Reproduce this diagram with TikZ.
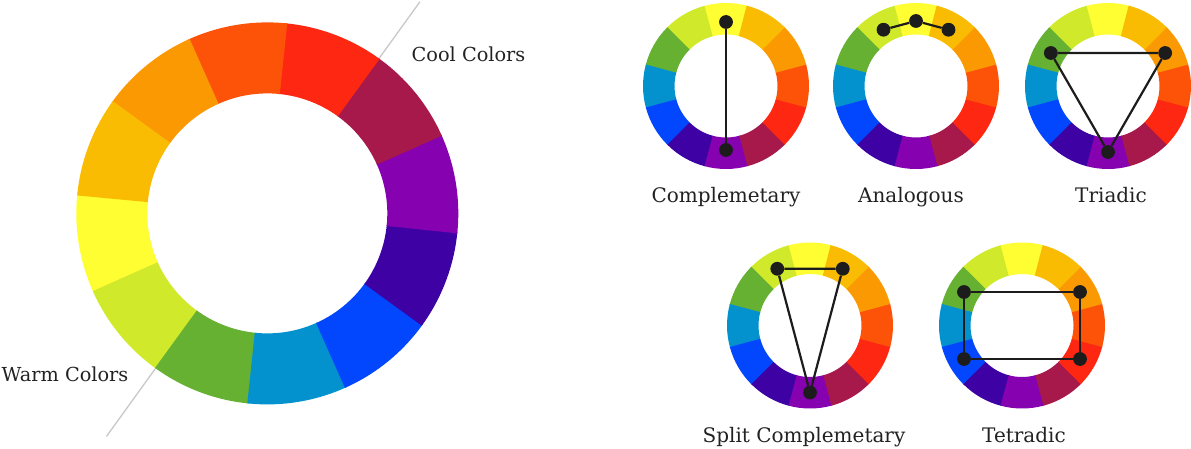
\documentclass[tikz,border=0pt]{standalone}
\usepackage{fontspec}
\setmainfont{DejaVu Serif}
\usetikzlibrary{calc}
\definecolor{cY}{HTML}{FEFE33}
\definecolor{cYG}{HTML}{D0EA2B}
\definecolor{cG}{HTML}{66B032}
\definecolor{cBG}{HTML}{0392CE}
\definecolor{cB}{HTML}{0247FE}
\definecolor{cBV}{HTML}{3D01A4}
\definecolor{cV}{HTML}{8601AF}
\definecolor{cRV}{HTML}{A7194B}
\definecolor{cR}{HTML}{FE2712}
\definecolor{cRO}{HTML}{FD5308}
\definecolor{cO}{HTML}{FB9902}
\definecolor{cYO}{HTML}{FABC02}
\definecolor{dotcol}{HTML}{1C1C1C}
\definecolor{txtcol}{HTML}{222222}
\definecolor{divcol}{HTML}{C8C8C8}
\tikzset{
  dot/.style={circle,fill=dotcol,inner sep=0pt,minimum size=13.8pt},
  conn/.style={draw=dotcol,line width=2.2pt},
  lbl/.style={inner sep=0pt,text=txtcol,font=\fontsize{19.3}{22}\selectfont},
  captext/.style={inner sep=0pt,text=txtcol,font=\fontsize{20}{23}\selectfont},
  divider/.style={draw=divcol,line width=1.3pt}
}
% #1 center name, #2 outer radius, #3 inner radius, #4 angle of yellow centre
\newcommand{\colorwheel}[4]{%
  \foreach \c [count=\i from 0] in {cY,cYG,cG,cBG,cB,cBV,cV,cRV,cR,cRO,cO,cYO}{%
    \pgfmathsetmacro{\sa}{#4+30*\i-15}%
    \pgfmathsetmacro{\ea}{#4+30*\i+15.6}%
    \fill[\c] ($(#1)+(\sa:#2pt)$) arc[start angle=\sa,end angle=\ea,radius=#2pt]
      -- ($(#1)+(\ea:#3pt)$) arc[start angle=\ea,end angle=\sa,radius=#3pt] -- cycle;
  }%
}
\begin{document}
\begin{tikzpicture}[x=1pt,y=1pt]
\useasboundingbox (0,0) rectangle (1191,448);
% centres
\coordinate (big) at (267.3,234.6);
\coordinate (w1) at (726,362);
\coordinate (w2) at (916,362);
\coordinate (w3) at (1108,362);
\coordinate (w4) at (810,122.5);
\coordinate (w5) at (1022,122.5);
% divider line
\coordinate (coolA) at ($(big)+(54.2:190pt)$);
\coordinate (coolB) at ($(big)+(54.2:261pt)$);
\coordinate (warmA) at ($(big)+(234.2:190pt)$);
\coordinate (warmB) at ($(big)+(234.2:275pt)$);
\draw[divider] (coolA) -- (coolB);
\draw[divider] (warmA) -- (warmB);
% wheels
\colorwheel{big}{191}{120}{189}
\colorwheel{w1}{83}{51.5}{90}
\colorwheel{w2}{83}{51.5}{90}
\colorwheel{w3}{83}{51.5}{90}
\colorwheel{w4}{83}{51.5}{90}
\colorwheel{w5}{83}{51.5}{90}
% labels
\node[lbl,anchor=base west] (cool) at (411.5,386.3) {Cool Colors};
\node[lbl,anchor=base west] (warm) at (1.5,66.3) {Warm Colors};
\node[captext,anchor=base] (t1) at (726,246) {Complemetary};
\node[captext,anchor=base] (t2) at (911,246) {Analogous};
\node[captext,anchor=base] (t3) at (1111,246) {Triadic};
\node[captext,anchor=base] (t4) at (804,5.3) {Split Complemetary};
\node[captext,anchor=base] (t5) at (1024,5.3) {Tetradic};
% complementary
\node[dot] (c1) at ($(w1)+(90:64pt)$) {};
\node[dot] (c2) at ($(w1)+(-90:64pt)$) {};
\draw[conn] (c1) -- (c2);
% analogous
\node[dot] (a1) at ($(w2)+(120:65pt)$) {};
\node[dot] (a2) at ($(w2)+(90:65pt)$) {};
\node[dot] (a3) at ($(w2)+(60:65pt)$) {};
\draw[conn] (a1) -- (a2) -- (a3);
% triadic
\node[dot] (r1) at ($(w3)+(150:66pt)$) {};
\node[dot] (r2) at ($(w3)+(30:66pt)$) {};
\node[dot] (r3) at ($(w3)+(-90:66pt)$) {};
\draw[conn] (r1) -- (r2) -- (r3) -- (r1);
% split complementary
\node[dot] (s1) at ($(w4)+(120:65.5pt)$) {};
\node[dot] (s2) at ($(w4)+(60:65.5pt)$) {};
\node[dot] (s3) at ($(w4)+(-90:67pt)$) {};
\draw[conn] (s1) -- (s2) -- (s3) -- (s1);
% tetradic
\node[dot] (q1) at ($(w5)+(150:67pt)$) {};
\node[dot] (q2) at ($(w5)+(30:67pt)$) {};
\node[dot] (q3) at ($(w5)+(-30:67pt)$) {};
\node[dot] (q4) at ($(w5)+(210:67pt)$) {};
\draw[conn] (q1) -- (q2) -- (q3) -- (q4) -- (q1);
\end{tikzpicture}
\end{document}
